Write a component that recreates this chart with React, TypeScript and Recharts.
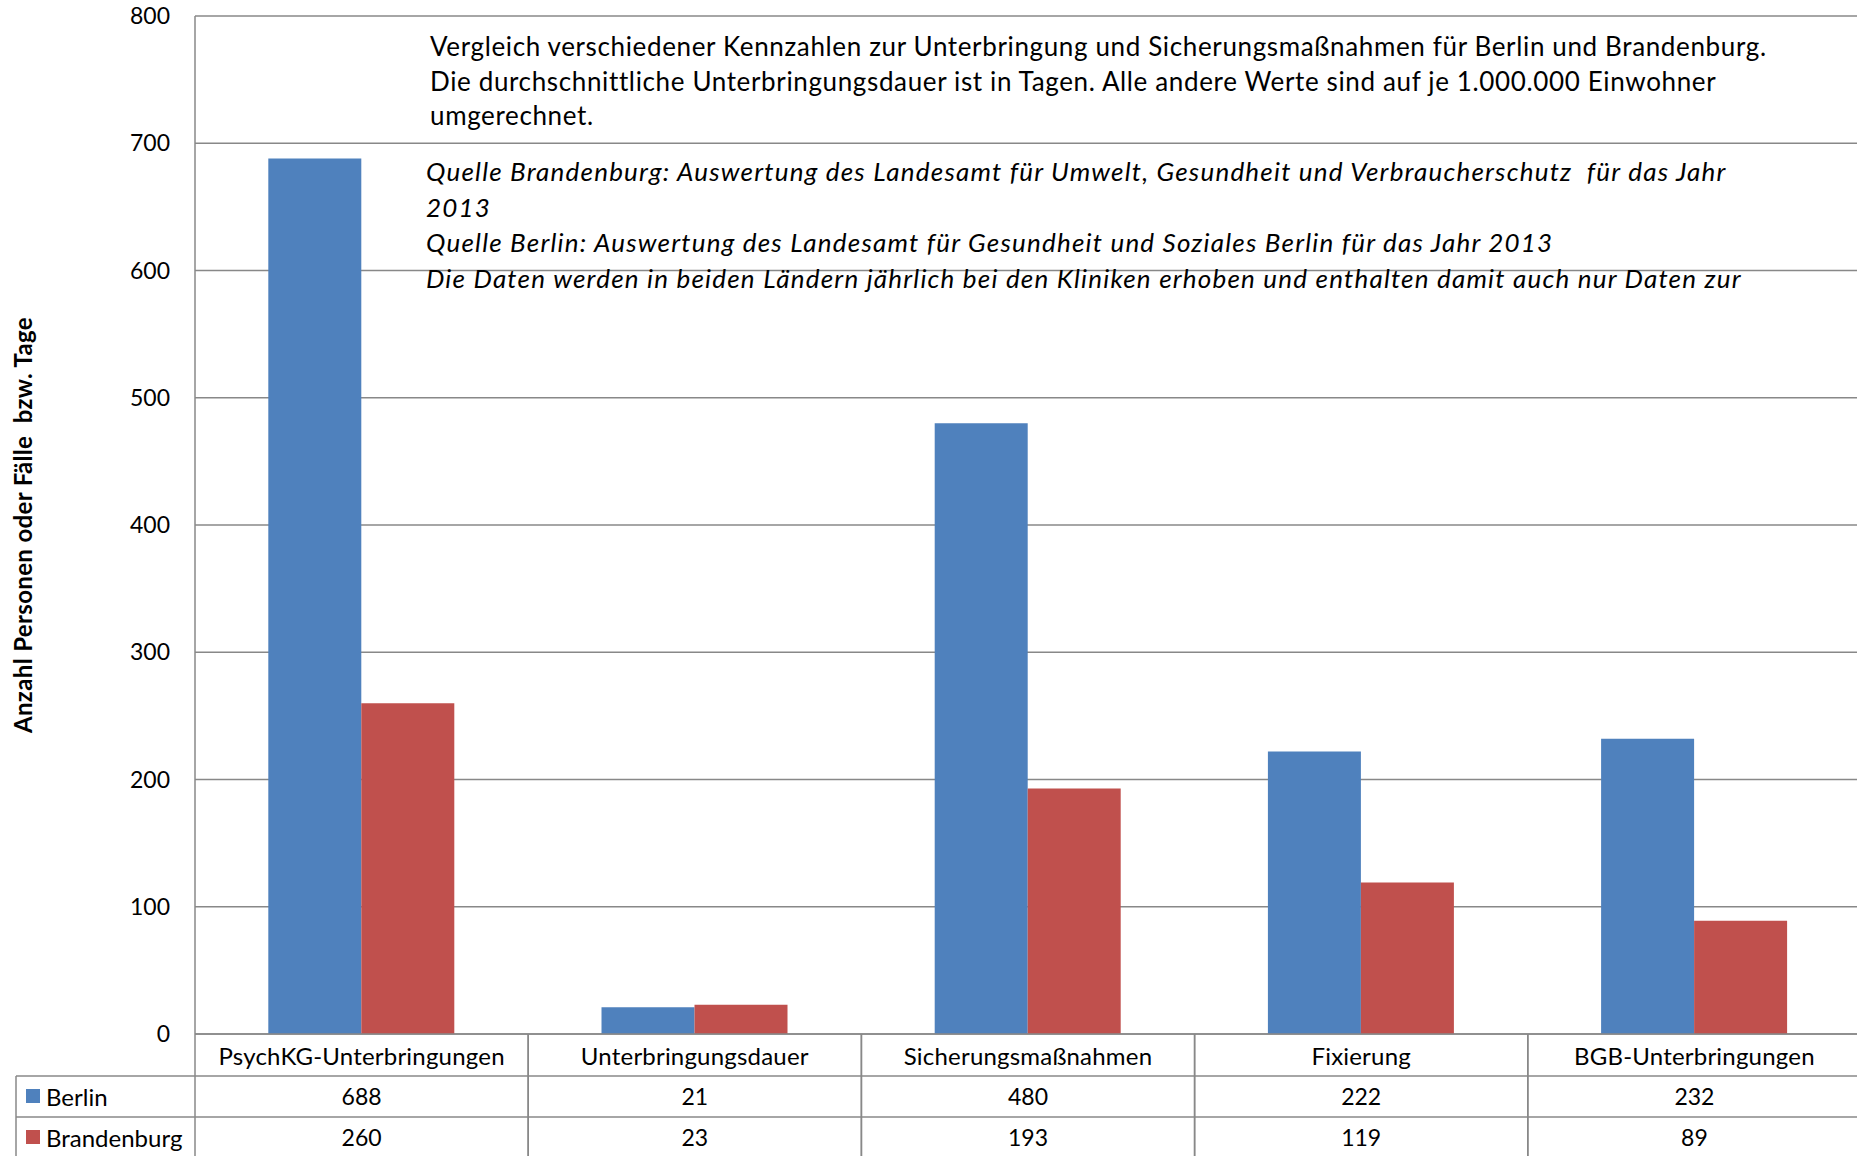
import React from 'react';
import { BarChart, Bar, XAxis, YAxis, CartesianGrid } from 'recharts';

// values per 1.000.000 Einwohner (Unterbringungsdauer in Tagen)
const categories = ['PsychKG-Unterbringungen', 'Unterbringungsdauer', 'Sicherungsmaßnahmen', 'Fixierung', 'BGB-Unterbringungen'];
const berlin = [688, 21, 480, 222, 232];
const brandenburg = [260, 23, 193, 119, 89];
const yTicks = [0, 100, 200, 300, 400, 500, 600, 700, 800];

const headerLines = [
  'Vergleich verschiedener Kennzahlen zur Unterbringung und Sicherungsmaßnahmen für Berlin und Brandenburg.',
  'Die durchschnittliche Unterbringungsdauer ist in Tagen. Alle andere Werte sind auf je 1.000.000 Einwohner',
  'umgerechnet.',
];
const sourceLines = [
  'Quelle Brandenburg: Auswertung des Landesamt für Umwelt, Gesundheit und Verbraucherschutz  für das Jahr',
  '2013',
  'Quelle Berlin: Auswertung des Landesamt für Gesundheit und Soziales Berlin für das Jahr 2013',
  'Die Daten werden in beiden Ländern jährlich bei den Kliniken erhoben und enthalten damit auch nur Daten zur',
];

const rows = categories.map((name, i) => ({ name, berlin: berlin[i], brandenburg: brandenburg[i] }));

const W = 1861;
const H = 1156;
const TOP = 16;
const Y_W = 195;
const X_H = 122;
const AXIS_Y = H - X_H;
const BAND = (W - Y_W) / categories.length;
const ROW1 = 1076;
const ROW2 = 1117;
const GRID = '#888888';
const BLUE = '#4F81BD';
const RED = '#C0504D';
const FONT = 'Lato, "Liberation Sans", sans-serif';

function TableTick(props: any) {
  const { x, payload } = props;
  const i = payload.index;
  const l = x - BAND / 2;
  const r = x + BAND / 2;
  return (
    <g>
      <line x1={l} x2={l} y1={AXIS_Y} y2={H} stroke={GRID} strokeWidth={1.5} />
      <line x1={r} x2={r} y1={AXIS_Y} y2={H} stroke={GRID} strokeWidth={1.5} />
      <line x1={l} x2={r} y1={ROW1} y2={ROW1} stroke={GRID} strokeWidth={1.5} />
      <line x1={l} x2={r} y1={ROW2} y2={ROW2} stroke={GRID} strokeWidth={1.5} />
      <text x={x} y={1055} textAnchor="middle" dominantBaseline="central" fontSize={24} letterSpacing={0.2} fill="#000">{payload.value}</text>
      <text x={x} y={1096} textAnchor="middle" dominantBaseline="central" fontSize={23} fill="#000">{berlin[i]}</text>
      <text x={x} y={1137} textAnchor="middle" dominantBaseline="central" fontSize={23} fill="#000">{brandenburg[i]}</text>
      {i === 0 && (
        <g>
          <line x1={16} x2={16} y1={ROW1} y2={H} stroke={GRID} strokeWidth={1.5} />
          <line x1={16} x2={l} y1={ROW1} y2={ROW1} stroke={GRID} strokeWidth={1.5} />
          <line x1={16} x2={l} y1={ROW2} y2={ROW2} stroke={GRID} strokeWidth={1.5} />
          <rect x={26} y={1089} width={14} height={14} fill={BLUE} />
          <rect x={26} y={1130} width={14} height={14} fill={RED} />
          <text x={46} y={1096} dominantBaseline="central" fontSize={24} fill="#000">Berlin</text>
          <text x={46} y={1137} dominantBaseline="central" fontSize={24} fill="#000">Brandenburg</text>
        </g>
      )}
    </g>
  );
}

function YLabel() {
  return (
    <text x={22} y={525} transform="rotate(-90 22 525)" textAnchor="middle" dominantBaseline="central"
      fontSize={24} letterSpacing={0.35} fontWeight="bold" fill="#000" style={{ whiteSpace: 'pre' }}>
      Anzahl Personen oder Fälle  bzw. Tage
    </text>
  );
}

export default function App() {
  return (
    <div style={{ position: 'absolute', left: 0, top: 0, width: 1857, height: H, overflow: 'hidden', background: '#fff', fontFamily: FONT }}>
      <BarChart width={W} height={H} data={rows} margin={{ top: TOP, right: 0, left: 0, bottom: 0 }}
        barCategoryGap="22%" barGap={0} style={{ fontFamily: FONT }}>
        <CartesianGrid vertical={false} stroke={GRID} strokeWidth={1.5} />
        <XAxis dataKey="name" height={X_H} axisLine={{ stroke: GRID, strokeWidth: 1.5 }} tickLine={false}
          tick={<TableTick />} interval={0} />
        <YAxis width={Y_W} domain={[0, 800]} ticks={yTicks} axisLine={{ stroke: GRID, strokeWidth: 1.5 }}
          tickLine={false} tickMargin={19} tick={{ fontSize: 23, fill: '#000' }} label={<YLabel />} />
        <Bar dataKey="berlin" name="Berlin" fill={BLUE} isAnimationActive={false} />
        <Bar dataKey="brandenburg" name="Brandenburg" fill={RED} isAnimationActive={false} />
      </BarChart>
      <div style={{ position: 'absolute', left: 430, top: 29, fontSize: 26, letterSpacing: 0.64, lineHeight: '34.5px', color: '#000', whiteSpace: 'pre' }}>
        {headerLines.map((t) => <div key={t}>{t}</div>)}
      </div>
      <div style={{ position: 'absolute', left: 426, top: 154, fontSize: 26, letterSpacing: 1.2, lineHeight: '35.5px', fontStyle: 'italic', color: '#000', whiteSpace: 'pre' }}>
        {sourceLines.map((t) => <div key={t}>{t}</div>)}
      </div>
    </div>
  );
}
